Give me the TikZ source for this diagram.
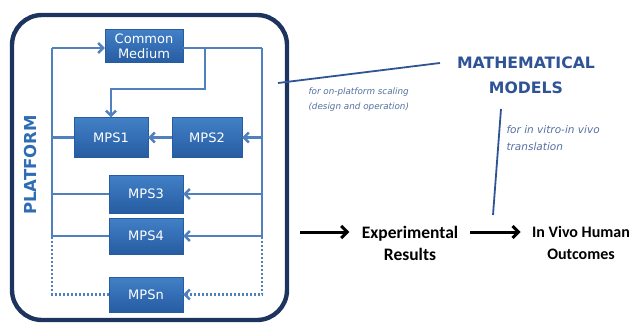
\documentclass[tikz,border=0pt]{standalone}
\usepackage{fontspec}
\setmainfont{DejaVu Sans}
\newfontfamily\calfont{Carlito}
\usetikzlibrary{shapes,arrows,arrows.meta,positioning}
\definecolor{boxblue}{RGB}{46,108,180}
\definecolor{boxtop}{RGB}{66,128,198}
\definecolor{boxbot}{RGB}{38,92,162}
\definecolor{linkblue}{RGB}{80,128,190}
\definecolor{navy}{RGB}{28,52,94}
\definecolor{titleblue}{RGB}{47,84,150}
\definecolor{noteblue}{RGB}{84,112,160}
\tikzset{
  mpsbox/.style = {draw=boxbot, top color=boxtop, bottom color=boxbot,
    text=white, align=center, inner sep=0pt, font=\fontsize{13}{15}\selectfont},
  link/.style = {draw=linkblue, line width=2.8pt},
  dotlink/.style = {link, line width=2.4pt, dash pattern=on 2pt off 2pt},
  note/.style = {text=noteblue, font=\fontsize{8.8}{15}\itshape, align=left},
  outcome/.style = {font=\calfont\bfseries\fontsize{17.5}{22}\selectfont, align=center},
  bluetip/.style = {-{Straight Barb[length=5pt,width=10pt,line width=2.4pt]}},
  blacktip/.style = {-{Straight Barb[length=6pt,width=12pt,line width=3pt]}}
}

\begin{document}
\begin{tikzpicture}[x=1pt,y=-1pt]
\useasboundingbox (0,0) rectangle (643,325);

% platform frame
\draw[navy, line width=4.4pt, rounded corners=30pt] (12,15) rectangle (287,320);
\node[rotate=90, text=boxblue, font=\bfseries\fontsize{16.5}{16}\selectfont] (plat) at (30,165) {PLATFORM};

% boxes
\node[mpsbox, minimum width=78pt, minimum height=33pt] (cm) at (144,46) {Common\\Medium};
\node[mpsbox, minimum width=74pt, minimum height=40pt] (mps1) at (111,137.5) {MPS1};
\node[mpsbox, minimum width=70pt, minimum height=40pt] (mps2) at (207,137.5) {MPS2};
\node[mpsbox, minimum width=74pt, minimum height=38pt] (mps3) at (146,194) {MPS3};
\node[mpsbox, minimum width=74pt, minimum height=36pt] (mps4) at (146,236) {MPS4};
\node[mpsbox, minimum width=74pt, minimum height=35pt] (mpsn) at (146,294.5) {MPSn};

\coordinate (tl) at (52,48);
\coordinate (tr) at (262,48);
\coordinate (bl) at (52,237);
\coordinate (br) at (262,237);
\coordinate (drop) at (205,48);

% flows
\draw[link,bluetip] (tl) -- (cm.west|-tl);
\draw[link] (cm.east|-tr) -- (tr);
\draw[link,bluetip] (drop) -- (205,89) -| (mps1.north);
\draw[link] (tl) -- (bl);
\draw[link] (tr) -- (br);
\draw[link] (mps1.west) -- (tl|-mps1.west);
\draw[link,bluetip] (mps2.west) -- (mps1.east);
\draw[link,bluetip] (tr|-mps2.east) -- (mps2.east);
\draw[link] (mps3.west) -- (tl|-mps3.west);
\draw[link,bluetip] (tr|-mps3.east) -- (mps3.east);
\draw[link] (mps4.west) -- (bl|-mps4.west);
\draw[link,bluetip] (br|-mps4.east) -- (mps4.east);
\draw[dotlink] (bl) |- (mpsn.west);
\draw[dotlink,bluetip] (br) |- (mpsn.east);

% models
\node[text=titleblue, font=\bfseries\fontsize{15.7}{25}\selectfont, align=center] (mm) at (526,75) {MATHEMATICAL\\MODELS};
\node[note, anchor=west] (scal) at (305,99.5) {for on-platform scaling\\(design and operation)};
\node[note, font=\fontsize{10.5}{17}\itshape, anchor=west] (trans) at (503,138.5) {for in vitro-in vivo\\translation};
\coordinate (p1) at (278,83);
\coordinate (p2) at (440,63);
\coordinate (v1) at (501,109);
\coordinate (v2) at (493,215);
\draw[titleblue, line width=1.8pt] (p1) -- (p2);
\draw[titleblue, line width=1.8pt] (v1) -- (v2);

% results
\node[outcome] (res) at (410,243) {Experimental\\Results};
\node[outcome, font=\calfont\bfseries\fontsize{16}{22}\selectfont] (out) at (581,243) {In Vivo Human\\Outcomes};
\coordinate (a0) at (300,232);
\coordinate (a2) at (470,232);
\draw[black, line width=3pt, blacktip, shorten >=9pt] (a0) -- (res.west|-a0);
\draw[black, line width=3pt, blacktip, shorten >=8pt] (a2) -- (out.west|-a2);
\end{tikzpicture}
\end{document}
